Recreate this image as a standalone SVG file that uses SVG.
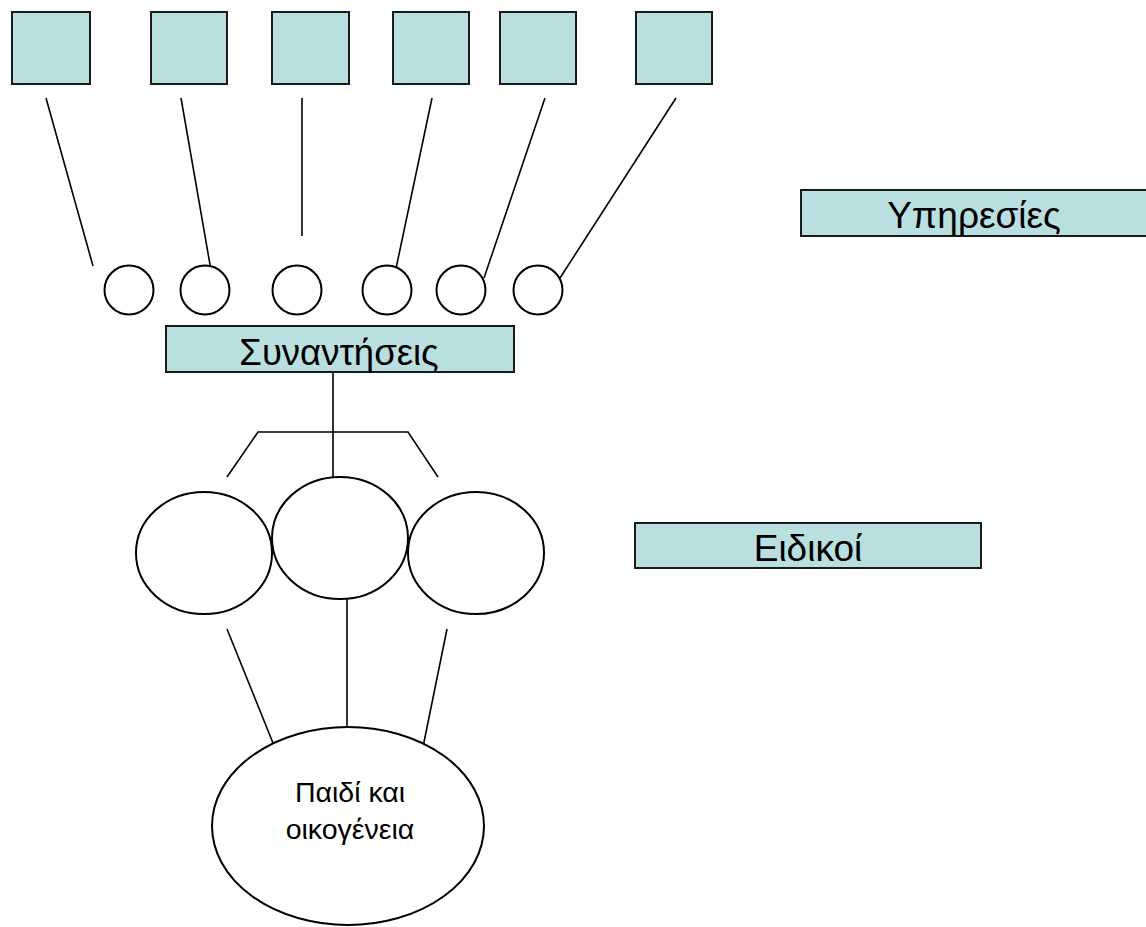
<svg xmlns="http://www.w3.org/2000/svg" width="1146" height="927" viewBox="0 0 1146 927">
<style>
.box{fill:#BADFE1;stroke:#1a1a1a;stroke-width:2}
.c{fill:#fff;stroke:#000;stroke-width:2}
.ln{stroke:#000;stroke-width:1.6;fill:none}
.t{font-family:"Liberation Sans",Arial,sans-serif;fill:#000;text-anchor:middle}
</style>
<rect width="1146" height="927" fill="#fff"/>
<g id="connectors">
<line class="ln" x1="46" y1="98" x2="93" y2="266"/>
<line class="ln" x1="181" y1="98" x2="212" y2="276"/>
<line class="ln" x1="302" y1="98" x2="302" y2="236"/>
<line class="ln" x1="432" y1="98" x2="394" y2="278"/>
<line class="ln" x1="545" y1="98" x2="484" y2="278"/>
<line class="ln" x1="676" y1="98" x2="560" y2="278"/>
<line class="ln" x1="333" y1="372" x2="333" y2="478"/>
<polyline class="ln" points="227,477 258,432 408,432 438,477"/>
<line class="ln" x1="227" y1="629" x2="275" y2="748"/>
<line class="ln" x1="347" y1="598" x2="347" y2="727"/>
<line class="ln" x1="447" y1="629" x2="423" y2="747"/>
</g>
<g id="service1"><rect class="box" x="12" y="12" width="78" height="72"/></g>
<g id="service2"><rect class="box" x="151" y="12" width="76" height="72"/></g>
<g id="service3"><rect class="box" x="272" y="12" width="77" height="72"/></g>
<g id="service4"><rect class="box" x="393" y="12" width="76" height="72"/></g>
<g id="service5"><rect class="box" x="500" y="12" width="76" height="72"/></g>
<g id="service6"><rect class="box" x="636" y="12" width="76" height="72"/></g>
<g id="meet1"><circle class="c" cx="129" cy="290" r="24.5"/></g>
<g id="meet2"><circle class="c" cx="205" cy="290" r="24.5"/></g>
<g id="meet3"><circle class="c" cx="297" cy="290" r="24.5"/></g>
<g id="meet4"><circle class="c" cx="387" cy="290" r="24.5"/></g>
<g id="meet5"><circle class="c" cx="461" cy="290" r="24.5"/></g>
<g id="meet6"><circle class="c" cx="538" cy="290" r="24.5"/></g>
<g id="synantiseis"><rect class="box" x="166" y="326" width="348" height="46"/><text class="t" x="339" y="365" font-size="36.5">Συναντήσεις</text></g>
<g id="yphresies"><rect class="box" x="801" y="190" width="350" height="46"/><text class="t" x="974" y="228" font-size="37">Υπηρεσίες</text></g>
<g id="eidikoi"><rect class="box" x="635" y="523" width="346" height="45"/><text class="t" x="808" y="561" font-size="37">Ειδικοί</text></g>
<g id="expert1"><ellipse class="c" cx="204" cy="553" rx="68" ry="61"/></g>
<g id="expert3"><ellipse class="c" cx="476" cy="553" rx="68" ry="61"/></g>
<g id="expert2"><ellipse class="c" cx="340" cy="538" rx="68" ry="61"/></g>
<g id="family"><ellipse class="c" cx="348" cy="826" rx="136" ry="99"/><text class="t" x="350" y="802" font-size="28.5">Παιδί και</text><text class="t" x="350" y="839" font-size="28.5">οικογένεια</text></g>
</svg>
